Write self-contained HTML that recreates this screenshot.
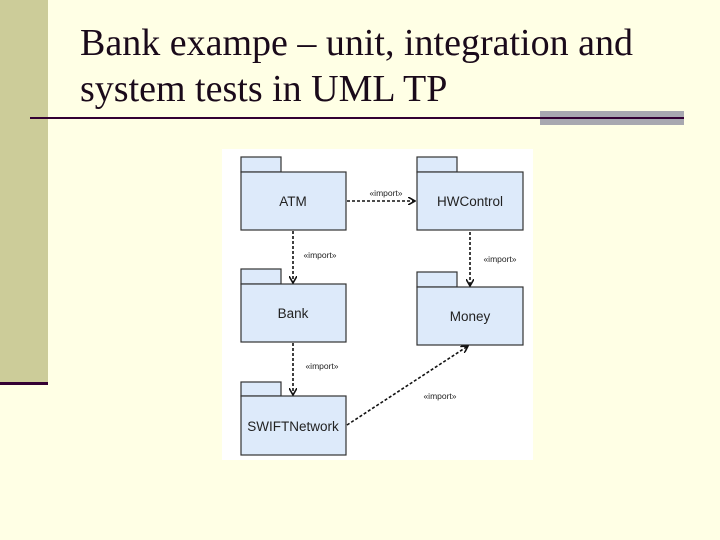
<!DOCTYPE html>
<html><head><style>
body{margin:0;width:720px;height:540px;background:#ffffe5;position:relative;overflow:hidden;font-family:"Liberation Serif",serif}
.t{position:absolute;left:80px;font-size:38px;color:#1a0a1a;white-space:nowrap}
</style></head><body>
<div style="position:absolute;left:0;top:0;width:48px;height:382px;background:#cccc99"></div>
<div style="position:absolute;left:0;top:382px;width:48px;height:3px;background:#330033"></div>
<div class="t" style="top:21px">Bank exampe – unit, integration and</div>
<div class="t" style="top:67px">system tests in UML TP</div>
<div style="position:absolute;left:540px;top:111px;width:144px;height:14px;background:#a8a8b0"></div>
<div style="position:absolute;left:30px;top:117px;width:654px;height:2px;background:#330033"></div>
<svg style="position:absolute;left:0;top:0" width="720" height="540" font-family="Liberation Sans, sans-serif">
<defs><marker id="a" markerWidth="8" markerHeight="8" refX="7" refY="4" orient="auto" markerUnits="userSpaceOnUse"><path d="M0,0 L7,4 L0,8" fill="none" stroke="#111" stroke-width="1.6"/></marker></defs>
<rect x="222" y="149" width="311" height="311" fill="#fff"/>
<g fill="#ddeafa" stroke="#333" stroke-width="1.2">
<rect x="241" y="157" width="40" height="15"/><rect x="241" y="172" width="105" height="58"/>
<rect x="417" y="157" width="40" height="15"/><rect x="417" y="172" width="106" height="58"/>
<rect x="241" y="269" width="40" height="15"/><rect x="241" y="284" width="105" height="58"/>
<rect x="417" y="272" width="40" height="15"/><rect x="417" y="287" width="106" height="58"/>
<rect x="241" y="382" width="40" height="14"/><rect x="241" y="396" width="105" height="59"/>
</g>
<g font-size="13.5" fill="#222" text-anchor="middle">
<text x="293" y="206">ATM</text><text x="470" y="206">HWControl</text>
<text x="293" y="318">Bank</text><text x="470" y="321">Money</text>
<text x="293" y="431">SWIFTNetwork</text>
</g>
<g stroke="#111" stroke-width="1.6" stroke-dasharray="3,2" fill="none" marker-end="url(#a)">
<line x1="347" y1="201" x2="415" y2="201"/>
<line x1="293" y1="231" x2="293" y2="283"/>
<line x1="470" y1="232" x2="470" y2="286"/>
<line x1="293" y1="343" x2="293" y2="395"/>
<line x1="347" y1="425" x2="468" y2="346"/>
</g>
<g font-size="8.5" fill="#222" text-anchor="middle">
<text x="386" y="196">«import»</text><text x="320" y="258">«import»</text>
<text x="500" y="262">«import»</text><text x="322" y="369">«import»</text>
<text x="440" y="399">«import»</text>
</g>
</svg>
</body></html>
